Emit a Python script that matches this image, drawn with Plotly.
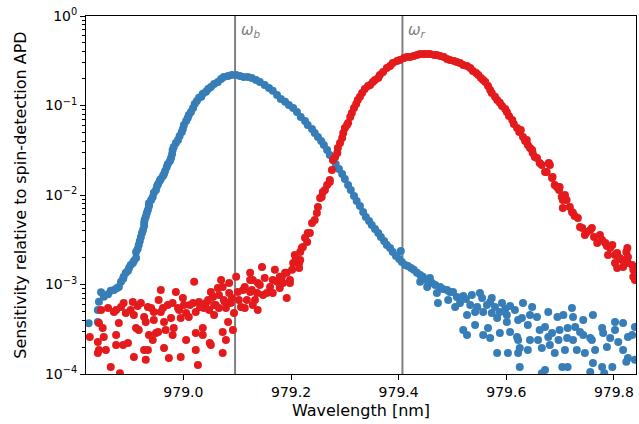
import plotly.graph_objects as go

# ---------------- data ----------------
blue_wavelength = [
    978.824, 978.841, 978.841, 978.843, 978.847, 978.852, 978.860, 978.865, 978.871, 978.876,
    978.880, 978.884, 978.888, 978.889, 978.893, 978.897, 978.899, 978.902, 978.906, 978.908,
    978.912, 978.912, 978.915, 978.917, 978.919, 978.921, 978.923, 978.925, 978.927, 978.927,
    978.928, 978.930, 978.932, 978.934, 978.936, 978.936, 978.940, 978.943, 978.945, 978.949,
    978.951, 978.953, 978.956, 978.958, 978.962, 978.964, 978.966, 978.969, 978.971, 978.975,
    978.977, 978.979, 978.980, 978.982, 978.986, 978.990, 978.993, 978.997, 978.999, 979.001,
    979.005, 979.008, 979.010, 979.014, 979.018, 979.021, 979.025, 979.029, 979.033, 979.036,
    979.042, 979.046, 979.051, 979.057, 979.064, 979.070, 979.075, 979.083, 979.090, 979.098,
    979.105, 979.112, 979.120, 979.127, 979.135, 979.142, 979.151, 979.159, 979.166, 979.174,
    979.181, 979.189, 979.196, 979.204, 979.211, 979.218, 979.226, 979.231, 979.239, 979.244,
    979.250, 979.256, 979.261, 979.267, 979.272, 979.278, 979.283, 979.289, 979.295, 979.300,
    979.306, 979.311, 979.317, 979.322, 979.328, 979.334, 979.339, 979.345, 979.350, 979.356,
    979.362, 979.367, 979.373, 979.378, 979.384, 979.389, 979.395, 979.401, 979.404, 979.406,
    979.412, 979.417, 979.423, 979.428, 979.434, 979.440, 979.440, 979.445, 979.451, 979.453,
    979.458, 979.462, 979.468, 979.471, 979.473, 979.477, 979.482, 979.490, 979.492, 979.495,
    979.501, 979.505, 979.508, 979.514, 979.520, 979.525, 979.527, 979.533, 979.536, 979.542,
    979.546, 979.551, 979.555, 979.557, 979.564, 979.570, 979.573, 979.573, 979.579, 979.583,
    979.588, 979.592, 979.598, 979.601, 979.601, 979.607, 979.616, 979.622,
    979.520, 979.527, 979.542, 979.557, 979.566, 979.570, 979.588, 979.607, 979.620, 979.583,
    979.603, 979.622, 979.625, 979.631, 979.648, 979.629, 979.644, 979.657, 979.678, 979.695,
    979.706, 979.722, 979.724, 979.743, 979.761, 979.802, 979.817, 979.839, 979.640, 979.662,
    979.672, 979.685, 979.699, 979.714, 979.728, 979.737, 979.743, 979.756, 979.778, 979.780,
    979.802, 979.834, 979.622, 979.644, 979.659, 979.678, 979.697, 979.713, 979.724, 979.759,
    979.793, 979.808, 979.826, 979.625, 979.640, 979.666, 979.681, 979.690, 979.709, 979.731,
    979.746, 979.765, 979.787, 979.817, 979.826, 979.839, 979.672, 979.704, 979.714, 979.761,
    979.778, 979.797, 979.823, 979.666, 979.756, 979.782,
]
blue_sensitivity = [
    3.7e-4, 3.8e-4, 5.2e-4, 6.4e-4, 8.2e-4, 7.3e-4, 7.8e-4, 8.5e-4, 8.7e-4, 9.1e-4,
    9.4e-4, 1.07e-3, 1.16e-3, 1.22e-3, 1.35e-3, 1.42e-3, 1.53e-3, 1.65e-3, 1.74e-3, 1.83e-3,
    1.98e-3, 2.31e-3, 2.49e-3, 2.76e-3, 3.06e-3, 3.4e-3, 3.76e-3, 4.06e-3, 4.5e-3, 4.9e-3,
    5.3e-3, 5.7e-3, 6.3e-3, 6.8e-3, 7.5e-3, 8.1e-3, 8.8e-3, 9.5e-3, 0.0106, 0.0114,
    0.0126, 0.0133, 0.0144, 0.0151, 0.0163, 0.0172, 0.0185, 0.0205, 0.0222, 0.024,
    0.0259, 0.0287, 0.0318, 0.0344, 0.0381, 0.0412, 0.0456, 0.0506, 0.0546, 0.0605,
    0.0671, 0.0725, 0.0783, 0.0846, 0.0938, 0.104, 0.112, 0.122, 0.125, 0.135,
    0.142, 0.153, 0.161, 0.174, 0.183, 0.198, 0.208, 0.214, 0.219, 0.219,
    0.214, 0.208, 0.208, 0.203, 0.193, 0.183, 0.169, 0.157, 0.146, 0.131,
    0.118, 0.110, 0.101, 0.0938, 0.0846, 0.0744, 0.0671, 0.0605, 0.0546, 0.0493,
    0.0445, 0.0401, 0.0362, 0.0318, 0.0280, 0.0246, 0.0222, 0.0195, 0.0172, 0.0151,
    0.0129, 0.0114, 0.00975, 0.00857, 0.00754, 0.00646, 0.00568, 0.00513, 0.00463, 0.00417,
    0.00376, 0.00340, 0.00306, 0.00276, 0.00256, 0.00231, 0.00208, 0.00193, 0.00237, 0.00178,
    0.00165, 0.00161, 0.00153, 0.00146, 0.00135, 0.00128, 0.00107, 0.00122, 0.00112, 0.000938,
    0.00118, 0.00104, 0.00099, 0.000803, 0.000621, 0.000938, 0.000891, 0.000868, 0.000671, 0.000824,
    0.000824, 0.000561, 0.000725, 0.000621, 0.000744, 0.000689, 0.000456, 0.000590, 0.000763, 0.000493,
    0.000561, 0.000803, 0.000707, 0.000493, 0.000590, 0.000638, 0.000707, 0.000481, 0.000561, 0.000422,
    0.000493, 0.000621, 0.000533, 0.000456, 0.000381, 0.000576, 0.000519, 0.000401,
    0.000310, 0.000272, 0.000353, 0.000272, 0.000327, 0.000252, 0.000287, 0.000295, 0.000259, 0.000172,
    0.000172, 0.000172, 0.000120, 0.000621, 0.000561, 0.000422, 0.000456, 0.000433, 0.000493, 0.000433,
    0.000456, 0.000546, 0.000433, 0.000401, 0.000456, 0.000381, 0.000372, 0.000336, 0.000353, 0.000310,
    0.000336, 0.000287, 0.000310, 0.000327, 0.000336, 0.000295, 0.000272, 0.000252, 0.000327, 0.000287,
    0.000310, 0.000272, 0.000240, 0.000240, 0.000240, 0.000259, 0.000240, 0.000252, 0.000240, 0.000240,
    0.000252, 0.000228, 0.000259, 0.000195, 0.000185, 0.000195, 0.000211, 0.000172, 0.000185, 0.000185,
    0.000172, 0.000185, 0.000200, 0.000185, 0.000151, 0.000144, 0.000111, 0.000120, 0.000120, 0.000133,
    0.000120, 0.000120, 0.000137, 0.000102, 0.000105, 0.000102,
]

red_wavelength = [
    978.826, 978.847, 978.843, 978.850, 978.852, 978.841, 978.843, 978.856, 978.865, 978.875,
    978.880, 978.875, 978.875, 978.888, 978.897, 978.889, 978.893, 978.906, 978.908, 978.912,
    978.917, 978.921, 978.927, 978.934, 978.930, 978.936, 978.927, 978.934, 978.908, 978.930,
    978.945, 978.945, 978.949, 978.943, 978.954, 978.958, 978.953, 978.962, 978.964, 978.967,
    978.964, 978.973, 978.980, 978.977, 978.982, 978.980, 978.986, 978.992, 978.995, 978.999,
    979.001, 979.005, 979.005, 978.995, 979.010, 979.018, 979.020, 979.023, 979.023, 979.023,
    979.027, 979.029, 979.036, 979.036, 979.038, 979.046, 979.048, 979.051, 979.055, 979.057,
    979.057, 979.051, 979.064, 979.066, 979.066, 979.070, 979.073, 979.075, 979.079, 979.073,
    979.079, 979.073, 979.083, 979.085, 979.085, 979.088, 979.092, 979.094, 979.098, 979.101,
    979.103, 979.107, 978.882, 979.049, 978.841,
    978.860, 978.871, 978.884, 978.902, 978.915, 978.940, 978.958, 978.971, 978.990, 979.012,
    979.031, 979.042, 979.060, 979.077, 979.090,
    979.111, 979.114, 979.114, 979.118, 979.124, 979.124, 979.124, 979.127, 979.129, 979.129,
    979.133, 979.137, 979.138, 979.138, 979.142, 979.146, 979.148, 979.151, 979.155, 979.161,
    979.166, 979.166, 979.170, 979.174, 979.179, 979.179, 979.183, 979.185, 979.189, 979.192,
    979.192, 979.198, 979.198, 979.202, 979.204, 979.207, 979.209, 979.215, 979.215, 979.217,
    979.217, 979.220, 979.222, 979.226, 979.230, 979.231, 979.235, 979.239, 979.244, 979.248,
    979.250, 979.254, 979.257, 979.259, 979.263, 979.267, 979.272, 979.272, 979.276, 979.278,
    979.282, 979.286, 979.287, 979.291, 979.295, 979.297, 979.300, 979.304, 979.306, 979.310,
    979.313, 979.317, 979.321, 979.324, 979.328, 979.332, 979.337, 979.343, 979.347, 979.352,
    979.356, 979.362, 979.365, 979.371, 979.378, 979.384, 979.389, 979.397, 979.402, 979.410,
    979.415, 979.421, 979.428, 979.434, 979.440, 979.447, 979.453, 979.458, 979.466, 979.471,
    979.477, 979.484, 979.490, 979.495, 979.503, 979.508, 979.514, 979.520, 979.527, 979.533,
    979.538, 979.544, 979.548, 979.553, 979.557, 979.561, 979.566, 979.570, 979.573, 979.579,
    979.583, 979.588, 979.592, 979.598, 979.601, 979.605, 979.611, 979.614, 979.620, 979.624,
    979.627, 979.631, 979.635, 979.638, 979.640, 979.644, 979.648, 979.649, 979.653, 979.657,
    979.662, 979.666, 979.672, 979.675, 979.679, 979.681, 979.685, 979.686, 979.690, 979.694,
    979.698, 979.699, 979.703, 979.705, 979.709, 979.712, 979.705, 979.718, 979.722, 979.724,
    979.727, 979.733, 979.737, 979.741, 979.746, 979.750, 979.756, 979.759, 979.763, 979.769,
    979.774, 979.778, 979.784, 979.787, 979.789, 979.793, 979.797, 979.802, 979.806, 979.802,
    979.806, 979.811, 979.815, 979.817, 979.823, 979.825, 979.826, 979.826, 979.834, 979.836,
    979.836, 979.839,
]
red_sensitivity = [
    0.000259, 0.000519, 0.000372, 0.000327, 0.000259, 0.000228, 0.000185, 0.000185, 0.000120, 0.000519,
    0.000372, 0.000272, 0.000211, 0.000211, 0.000222, 0.000621, 0.000481, 0.000638, 0.000456, 0.000327,
    0.000310, 0.000621, 0.000433, 0.000561, 0.000381, 0.000272, 0.000185, 0.000185, 0.000155, 0.000144,
    0.000493, 0.000401, 0.000287, 0.000240, 0.000671, 0.000868, 0.000295, 0.000546, 0.000381, 0.000310,
    0.000195, 0.000151, 0.000621, 0.000422, 0.000327, 0.000272, 0.000824, 0.000519, 0.000422, 0.000707,
    0.000590, 0.000481, 0.000240, 0.000155, 0.000433, 0.000621, 0.00107, 0.000493, 0.000287, 0.000185,
    0.000126, 0.000638, 0.000327, 0.000272, 0.000546, 0.000671, 0.000519, 0.000824, 0.000725, 0.000590,
    0.000456, 0.000211, 0.000914, 0.000763, 0.000546, 0.00112, 0.000938, 0.000671, 0.000546, 0.000295,
    0.000240, 0.000172, 0.000381, 0.00104, 0.000803, 0.000621, 0.000310, 0.000481, 0.00122, 0.000824,
    0.000671, 0.000561, 0.000102, 0.000222, 0.000172,
    0.000546, 0.000493, 0.000561, 0.000519, 0.000576, 0.000546, 0.000493, 0.000590, 0.000546, 0.000590,
    0.000561, 0.000621, 0.000590, 0.000638, 0.000707,
    0.000868, 0.000938, 0.000546, 0.000671, 0.00112, 0.00135, 0.000824, 0.000868, 0.00112, 0.000590,
    0.000671, 0.000803, 0.00104, 0.000519, 0.00099, 0.00157, 0.000763, 0.00118, 0.000803, 0.000938,
    0.00112, 0.000803, 0.00146, 0.00107, 0.00122, 0.000914, 0.00122, 0.00104, 0.00135, 0.00135,
    0.000707, 0.00112, 0.00104, 0.00146, 0.00174, 0.00214, 0.00193, 0.00174, 0.00153, 0.00231,
    0.00188, 0.00256, 0.00263, 0.00332, 0.00298, 0.00376, 0.00376, 0.00487, 0.00526, 0.00630,
    0.00735, 0.00926, 0.00950, 0.0108, 0.0114, 0.0129, 0.0140, 0.0147, 0.0190, 0.0246,
    0.0265, 0.0295, 0.0335, 0.0381, 0.0433, 0.0493, 0.0561, 0.0605, 0.0638, 0.0744,
    0.0824, 0.0938, 0.104, 0.1155, 0.125, 0.138, 0.153, 0.165, 0.169, 0.183,
    0.193, 0.203, 0.219, 0.237, 0.263, 0.276, 0.298, 0.314, 0.323, 0.340,
    0.349, 0.349, 0.358, 0.367, 0.376, 0.376, 0.376, 0.376, 0.367, 0.367,
    0.358, 0.349, 0.331, 0.323, 0.314, 0.306, 0.298, 0.284, 0.276, 0.263,
    0.243, 0.231, 0.219, 0.203, 0.193, 0.183, 0.165, 0.149, 0.138, 0.125,
    0.1155, 0.107, 0.0987, 0.0914, 0.0846, 0.0763, 0.0689, 0.0621, 0.0561, 0.0506,
    0.0533, 0.0445, 0.0401, 0.0412, 0.0362, 0.0335, 0.0318, 0.0295, 0.0265, 0.0259,
    0.0228, 0.0216, 0.0181, 0.0181, 0.0228, 0.0216, 0.0155, 0.0159, 0.0129, 0.0123,
    0.0114, 0.0123, 0.00950, 0.00879, 0.0100, 0.00879, 0.00716, 0.00735, 0.00646, 0.00630,
    0.00583, 0.00554, 0.00439, 0.00428, 0.00358, 0.00386, 0.00406, 0.00428, 0.00340, 0.00291,
    0.00358, 0.00314, 0.00291, 0.00270, 0.00214, 0.00256, 0.00276, 0.00214, 0.00225, 0.00174,
    0.00153, 0.00198, 0.00188, 0.00157, 0.00231, 0.00256, 0.00203, 0.00174, 0.00165, 0.00146,
    0.00122, 0.00112,
]

line_positions = [979.096, 979.407]
line_labels = ["<i>ω<sub>b</sub></i>", "<i>ω<sub>r</sub></i>"]

x_ticks = [979.0, 979.2, 979.4, 979.6, 979.8]
x_tick_labels = ["979.0", "979.2", "979.4", "979.6", "979.8"]
y_ticks = [1e-4, 1e-3, 1e-2, 1e-1, 1]
y_tick_labels = ["10<sup>−4</sup>", "10<sup>−3</sup>", "10<sup>−2</sup>", "10<sup>−1</sup>", "10<sup>0</sup>"]

# ---------------- figure ----------------
BLUE = "#377eb8"
RED = "#e41a1c"
FONT = "DejaVu Sans"

fig = go.Figure()
fig.add_trace(go.Scatter(x=blue_wavelength, y=blue_sensitivity, mode="markers",
                         marker=dict(color=BLUE, size=8, line=dict(width=0)),
                         showlegend=False, hoverinfo="skip"))
fig.add_trace(go.Scatter(x=red_wavelength, y=red_sensitivity, mode="markers",
                         marker=dict(color=RED, size=8, line=dict(width=0)),
                         showlegend=False, hoverinfo="skip"))

for xpos, lab in zip(line_positions, line_labels):
    fig.add_shape(type="line", x0=xpos, x1=xpos, xref="x", y0=0, y1=1, yref="paper",
                  line=dict(color="#808080", width=2), layer="below")
    fig.add_annotation(x=xpos, xref="x", y=1, yref="paper", text=lab, showarrow=False,
                       xanchor="left", yanchor="top", xshift=4, yshift=-3,
                       font=dict(family=FONT, size=15, color="#808080"))

minor_vals = [k * 10.0 ** e for e in range(-4, 0) for k in range(2, 10)]

fig.update_layout(
    width=639, height=424,
    margin=dict(l=86, r=3, t=16, b=50),
    plot_bgcolor="white", paper_bgcolor="white",
    font=dict(family=FONT, size=14, color="black"),
    xaxis=dict(range=[978.819, 979.841], tickvals=x_ticks, ticktext=x_tick_labels,
               showgrid=False, zeroline=False, showline=True, linecolor="black", linewidth=1,
               mirror=True, ticks="outside", ticklen=5, tickcolor="black",
               title=dict(text="Wavelength [nm]", font=dict(size=16), standoff=6),
               automargin=False),
    yaxis=dict(type="log", range=[-4, 0], tickvals=y_ticks, ticktext=y_tick_labels,
               showgrid=False, zeroline=False, showline=True, linecolor="black", linewidth=1,
               mirror=True, ticks="outside", ticklen=5, tickcolor="black",
               minor=dict(tickvals=minor_vals, ticks="outside", ticklen=3, tickcolor="black",
                          showgrid=False),
               title=dict(text="Sensitivity relative to spin-detection APD", font=dict(size=16),
                          standoff=14),
               automargin=False),
)

fig.write_html("out.html", config={"displayModeBar": False},
               post_script="document.body.style.margin='0px';document.body.style.padding='0px';")
